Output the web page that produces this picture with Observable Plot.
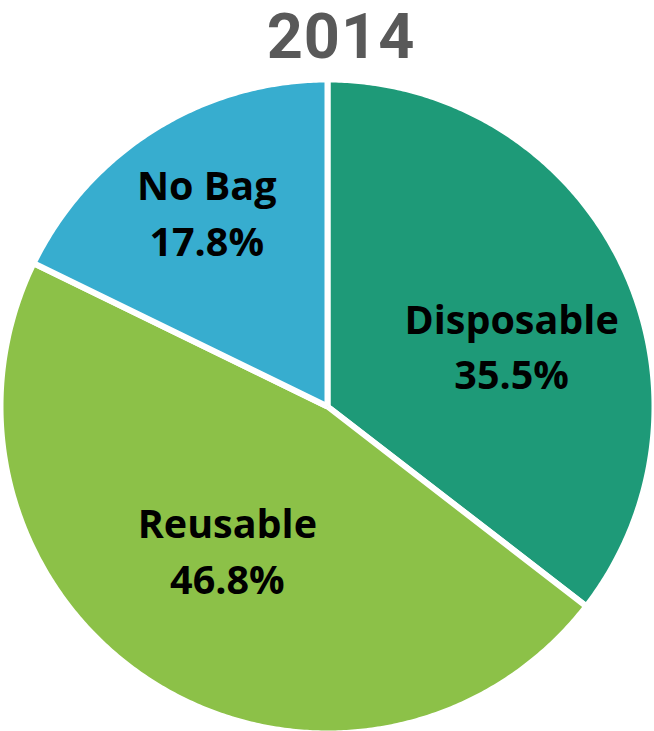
<!DOCTYPE html>
<html>
<head>
<meta charset="utf-8">
<script src="https://cdn.jsdelivr.net/npm/d3@7"></script>
<script src="https://cdn.jsdelivr.net/npm/@observablehq/plot@0.6"></script>
<style>
  html, body { margin: 0; padding: 0; background: #ffffff; }
  #wrap { position: relative; width: 654px; height: 731px; overflow: hidden; }
  #title {
    position: absolute; top: 0; left: 28px; width: 626px;
    text-align: center; font-family: Roboto, "Open Sans", sans-serif; font-weight: 700;
    font-size: 63px; line-height: normal; letter-spacing: 1px; color: #595959;
  }
  #chart { position: absolute; top: 0; left: 0; }
</style>
</head>
<body>
<div id="wrap">
  <div id="chart"></div>
  <div id="title">2014</div>
</div>
<script>
// ---- data ----
const categories = ["Disposable", "Reusable", "No Bag"];
const shares = [35.5, 46.8, 17.8];

// ---- styles / layout (kept apart from the data) ----
const palette = ["#1e9a78", "#8cc148", "#37adcf"];
const labelLayout = {
  "Disposable": {r: 0.595, nudge: 7.3},
  "Reusable":   {r: 0.531, nudge: 3.4},
  "No Bag":     {r: 0.705, nudge: 0.4}
};

const rows = categories.map((name, i) => ({name, share: shares[i]}));
const arcs = d3.pie().sort(null).value(d => d.share)(rows);

// polygon outline of each slice (centre -> arc -> centre), unit radius
const slicePts = [];
for (const a of arcs) {
  slicePts.push({name: a.data.name, x: 0, y: 0});
  const steps = Math.max(2, Math.ceil((a.endAngle - a.startAngle) / (Math.PI / 360)));
  for (let k = 0; k <= steps; k++) {
    const t = a.startAngle + (a.endAngle - a.startAngle) * k / steps;
    slicePts.push({name: a.data.name, x: Math.sin(t), y: Math.cos(t)});
  }
  slicePts.push({name: a.data.name, x: 0, y: 0});
}

const labels = arcs.map(a => {
  const L = labelLayout[a.data.name];
  const t = (a.startAngle + a.endAngle) / 2 + L.nudge * Math.PI / 180;
  return {
    name: a.data.name,
    x: L.r * Math.sin(t),
    y: L.r * Math.cos(t),
    text: `${a.data.name}\n${a.data.share.toFixed(1)}%`
  };
});

const chart = Plot.plot({
  width: 654,
  height: 731,
  margin: 0,
  x: {domain: [-1, 1], range: [0, 654], axis: null},
  y: {domain: [-1, 1], range: [733, 79], axis: null},
  color: {domain: categories, range: palette},
  style: {background: "transparent", overflow: "visible"},
  marks: [
    Plot.line(slicePts, {
      x: "x", y: "y", z: "name", fill: "name",
      stroke: "white", strokeWidth: 6,
      strokeLinejoin: "miter", strokeMiterlimit: 4, strokeLinecap: "butt"
    }),
    Plot.text(labels, {
      x: "x", y: "y", text: "text",
      fontSize: 39.5, fontWeight: "bold", fontFamily: "Open Sans",
      lineHeight: 56 / 39.5, lineAnchor: "middle", fill: "black"
    })
  ]
});
document.getElementById("chart").appendChild(chart);
</script>
</body>
</html>
